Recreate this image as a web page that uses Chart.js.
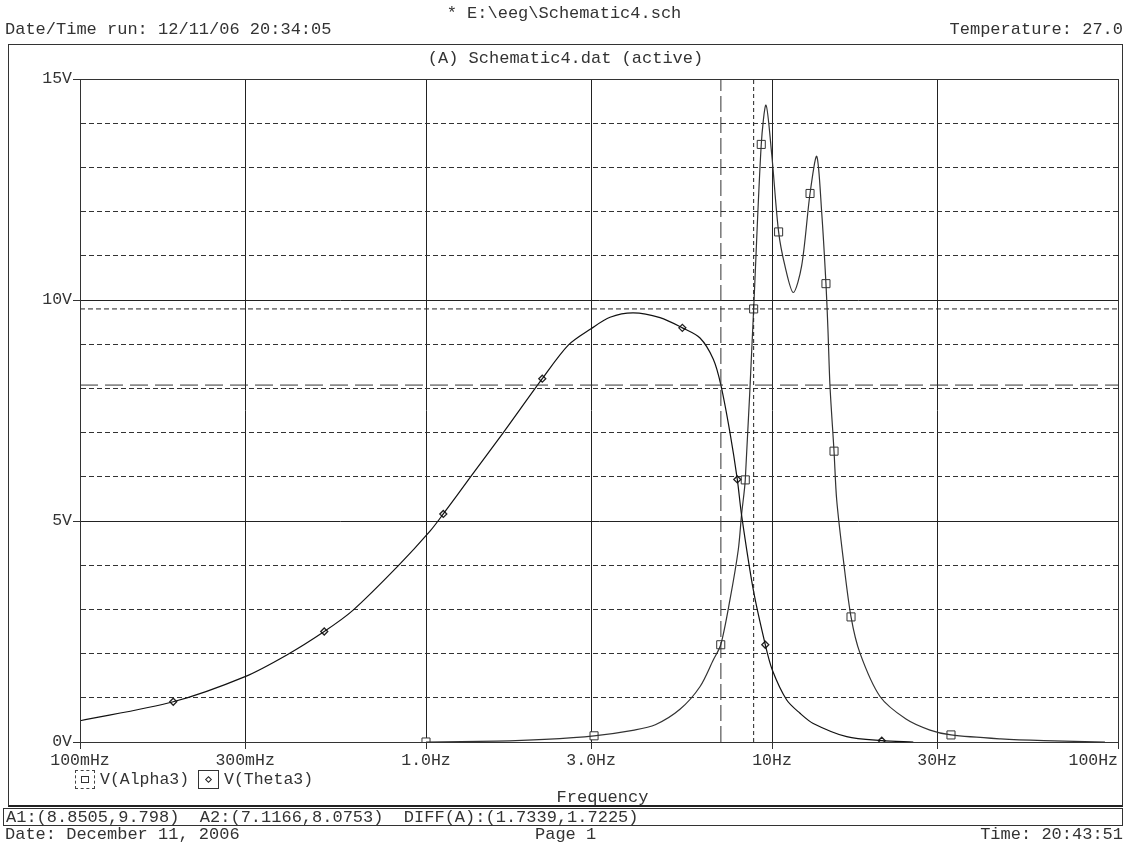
<!DOCTYPE html>
<html>
<head>
<meta charset="utf-8">
<script src="https://cdn.jsdelivr.net/npm/chart.js@4/dist/chart.umd.min.js"></script>
<style>
  html,body{margin:0;padding:0;background:#fff;}
  body{width:1128px;height:846px;position:relative;overflow:hidden;font-family:"Liberation Mono","DejaVu Sans Mono",monospace;color:#333;}
  #wrap{position:absolute;left:0;top:0;width:1128px;height:846px;}
  .t{position:absolute;font-size:17px;line-height:17px;white-space:pre;}
  .s{font-size:16.5px;line-height:17px;}
  .box{position:absolute;box-sizing:border-box;pointer-events:none;}
</style>
</head>
<body>
<div id="wrap"><canvas id="c" width="1128" height="846"></canvas></div>

<div class="t" style="left:0;width:1128px;text-align:center;top:5px;">* E:\eeg\Schematic4.sch</div>
<div class="t" style="left:5px;top:21px;">Date/Time run: 12/11/06 20:34:05</div>
<div class="t" style="right:5px;top:21px;">Temperature: 27.0</div>

<div class="box" style="left:8px;top:44px;width:1115px;height:763px;border:1px solid #333;border-bottom:2px solid #222;"></div>
<div class="t" style="left:8px;width:1115px;text-align:center;top:50px;">(A) Schematic4.dat (active)</div>

<div class="box" style="left:75px;top:770px;width:20px;height:19px;border:1px dashed #444;">
  <div style="position:absolute;left:5px;top:5px;width:8px;height:7px;border:1px solid #333;box-sizing:border-box;"></div>
</div>
<div class="t s" style="left:100px;top:771px;">V(Alpha3)</div>
<div class="box" style="left:198px;top:770px;width:21px;height:19px;border:1px solid #333;">
  <div style="position:absolute;left:7px;top:6px;width:5px;height:5px;border:1.5px solid #222;box-sizing:border-box;transform:rotate(45deg);"></div>
</div>
<div class="t s" style="left:224px;top:771px;">V(Theta3)</div>
<div class="t" style="left:80px;width:1045px;text-align:center;top:789px;">Frequency</div>

<div class="box" style="left:3px;top:808px;width:1120px;height:18px;border:1px solid #333;"></div>
<div class="t" style="left:6px;top:809px;">A1:(8.8505,9.798)  A2:(7.1166,8.0753)  DIFF(A):(1.7339,1.7225)</div>
<div class="t" style="left:5px;top:826px;">Date: December 11, 2006</div>
<div class="t" style="left:535px;top:826px;">Page 1</div>
<div class="t" style="right:5px;top:826px;">Time: 20:43:51</div>

<script>
// ---- data ----
const xTickVals   = [0.1, 0.3, 1, 3, 10, 30, 100];
const xTickLabels = ['100mHz', '300mHz', '1.0Hz', '3.0Hz', '10Hz', '30Hz', '100Hz'];
const yTickVals   = [0, 5, 10, 15];
const yTickLabels = ['0V', '5V', '10V', '15V'];

// V(Theta3)
const thetaFreq = [0.1, 0.186, 0.3, 0.396, 0.508, 0.617, 0.832, 1.027, 1.122, 1.34, 1.673, 2.168, 2.578, 2.999, 3.403, 3.973, 4.747, 5.506, 6.194, 6.767, 7.1166, 7.56, 7.938, 8.165, 8.831, 9.564, 10.02, 11.03, 12.05, 13.16, 16.44, 20.76, 25.61];
const thetaV    = [0.48, 0.91, 1.48, 1.97, 2.50, 2.99, 3.99, 4.77, 5.16, 5.98, 7.0, 8.22, 8.98, 9.35, 9.61, 9.71, 9.60, 9.37, 9.14, 8.66, 8.0753, 7.0, 5.94, 5.14, 3.44, 2.2, 1.63, 0.95, 0.65, 0.42, 0.12, 0.03, 0.0];
const thetaMarkF = [0.186, 0.508, 1.122, 2.168, 5.506, 7.938, 9.564, 20.76];
const thetaMarkV = [0.91, 2.50, 5.16, 8.22, 9.37, 5.94, 2.2, 0.03];

// V(Alpha3)
const alphaFreq = [1.0, 1.6, 2.2, 3.06, 4.0, 4.6, 5.42, 6.19, 6.77, 7.11, 7.56, 7.99, 8.165, 8.37, 8.8505, 9.31, 9.61, 9.98, 10.45, 10.90, 11.52, 12.18, 12.88, 13.47, 13.92, 14.32, 14.51, 14.71, 15.11, 15.38, 16.08, 16.92, 17.96, 20.52, 24.39, 28.62, 32.91, 45.8, 61.1, 91.7];
const alphaV    = [0.0, 0.02, 0.06, 0.14, 0.27, 0.39, 0.74, 1.25, 1.86, 2.2, 3.22, 4.35, 5.14, 5.93, 9.798, 13.52, 14.41, 13.3, 11.54, 10.77, 10.17, 10.77, 12.41, 13.25, 11.98, 10.37, 9.34, 8.05, 6.58, 5.48, 4.12, 2.83, 2.01, 1.03, 0.52, 0.27, 0.16, 0.07, 0.03, 0.0];
const alphaMarkF = [1.0, 3.06, 7.11, 8.37, 8.8505, 9.31, 10.45, 12.88, 14.32, 15.11, 16.92, 32.91];
const alphaMarkV = [0.0, 0.14, 2.2, 5.93, 9.798, 13.52, 11.54, 12.41, 10.37, 6.58, 2.83, 0.16];

// cursors
const cursorA1 = [8.8505, 9.798];
const cursorA2 = [7.1166, 8.0753];
const xRange = [0.1, 100];
const yRange = [0, 15];

const pts = (xs, ys) => xs.map((x, i) => ({x: x, y: ys[i]}));

const FONT = '"Liberation Mono", monospace';
const INK = '#222';

const boxPlugin = {
  id: 'plotBox',
  afterDatasetsDraw(chart) {
    const a = chart.chartArea, c = chart.ctx;
    c.save();
    c.strokeStyle = '#333';
    c.lineWidth = 1;
    c.strokeRect(Math.round(a.left) + 0.5, Math.round(a.top) + 0.5, Math.round(a.right - a.left), Math.round(a.bottom - a.top));
    c.restore();
  },
  afterDraw(chart) {
    const xs = chart.scales.x, c = chart.ctx;
    c.save();
    c.font = '16.5px ' + FONT;
    c.fillStyle = '#333';
    c.textBaseline = 'middle';
    xTickVals.forEach((v, i) => {
      const px = xs.getPixelForValue(v);
      c.textAlign = (i === xTickVals.length - 1) ? 'right' : 'center';
      c.fillText(xTickLabels[i], px, 761);
    });
    c.restore();
  }
};

const lineDs = (data, color, dash) => ({
  data: data, showLine: true, borderColor: color, borderWidth: 1,
  borderDash: dash, pointRadius: 0, fill: false, tension: 0
});

new Chart(document.getElementById('c'), {
  type: 'scatter',
  data: {
    datasets: [
      // cursor lines
      lineDs([{x: cursorA2[0], y: yRange[0]}, {x: cursorA2[0], y: yRange[1]}], '#333', [16, 5]),
      lineDs([{x: xRange[0], y: cursorA2[1]}, {x: xRange[1], y: cursorA2[1]}], '#333', [18, 7]),
      lineDs([{x: cursorA1[0], y: yRange[0]}, {x: cursorA1[0], y: yRange[1]}], '#222', [4, 3]),
      lineDs([{x: xRange[0], y: cursorA1[1]}, {x: xRange[1], y: cursorA1[1]}], '#222', [5, 3]),
      // curves
      {
        label: 'V(Theta3)', data: pts(thetaFreq, thetaV), showLine: true,
        borderColor: '#111', borderWidth: 1.2, pointRadius: 0, tension: 0.3
      },
      {
        label: 'V(Alpha3)', data: pts(alphaFreq, alphaV), showLine: true,
        borderColor: '#333', borderWidth: 1.2, pointRadius: 0, tension: 0.3
      },
      // markers
      {
        data: pts(thetaMarkF, thetaMarkV), showLine: false,
        pointStyle: 'rectRot', pointRadius: 3.5, pointBorderWidth: 1.3,
        pointBorderColor: '#222', pointBackgroundColor: '#fff'
      },
      {
        data: pts(alphaMarkF, alphaMarkV), showLine: false,
        pointStyle: 'rect', pointRadius: 5.7, pointBorderWidth: 1,
        pointBorderColor: '#333', pointBackgroundColor: '#fff'
      }
    ]
  },
  options: {
    responsive: false,
    animation: false,
    events: [],
    layout: {padding: {left: 0, top: 79, right: 10, bottom: 84}},
    plugins: {legend: {display: false}, tooltip: {enabled: false}},
    scales: {
      x: {
        type: 'logarithmic', min: xRange[0], max: xRange[1],
        afterBuildTicks: s => { s.ticks = xTickVals.map(v => ({value: v})); },
        afterFit: s => { s.height = 20; s.paddingLeft = 0; s.paddingRight = 0; },
        ticks: {display: false},
        grid: {color: INK, lineWidth: 1, tickLength: 7, tickColor: '#333'},
        border: {display: true, color: '#333', width: 1}
      },
      y: {
        min: yRange[0], max: yRange[1],
        ticks: {
          stepSize: 1, padding: 1, color: '#333',
          font: {family: FONT, size: 16.5},
          callback: v => { const i = yTickVals.indexOf(v); return i >= 0 ? yTickLabels[i] : ''; }
        },
        afterFit: s => { s.width = 80; s.paddingTop = 0; s.paddingBottom = 0; },
        grid: {
          color: ctx => (ctx.tick && ctx.tick.value % 5 === 0) ? INK : '#333',
          lineWidth: 1, tickLength: 7,
          tickColor: ctx => (ctx.tick && ctx.tick.value % 5 === 0) ? '#333' : 'rgba(0,0,0,0)'
        },
        border: {
          display: true, color: '#333', width: 1,
          dash: ctx => (ctx.tick && ctx.tick.value % 5 !== 0) ? [5, 3] : []
        }
      }
    }
  },
  plugins: [boxPlugin]
});
</script>
</body>
</html>
